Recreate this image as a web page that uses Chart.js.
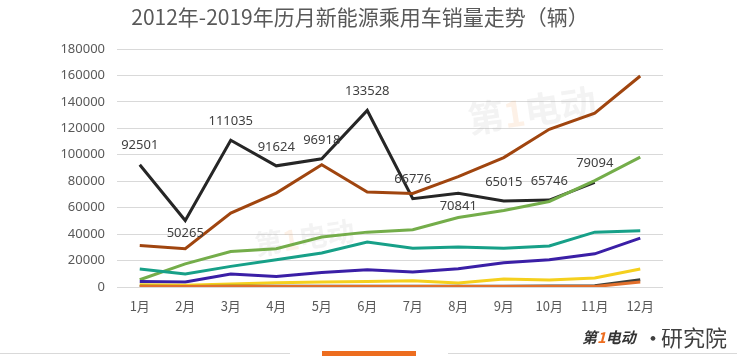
<!DOCTYPE html>
<html>
<head>
<meta charset="utf-8">
<script src="https://cdn.jsdelivr.net/npm/chart.js@4/dist/chart.umd.min.js"></script>
<style>
html,body{margin:0;padding:0;background:#fff;}
#wrap{position:relative;width:737px;height:356px;overflow:hidden;}
canvas{position:absolute;left:0;top:0;}
.deco{position:absolute;}
</style>
</head>
<body>
<div id="wrap">
<canvas id="c" width="737" height="356"></canvas>
<div class="deco" style="left:0;top:353px;width:290px;height:1px;background:#d9d9d9"></div>
<div class="deco" style="left:322px;top:351px;width:94px;height:5px;background:#ed6d1f"></div>
<div class="deco" style="left:448px;top:353px;width:289px;height:1px;background:#d9d9d9"></div>
</div>
<script>
const titleText = '2012年-2019年历月新能源乘用车销量走势（辆）';
const months = ['1月','2月','3月','4月','5月','6月','7月','8月','9月','10月','11月','12月'];
const yTicks = [0,20000,40000,60000,80000,100000,120000,140000,160000,180000];

const s2012 = [300,300,300,300,300,300,300,300,300,300,300,3800];
const s2013 = [500,400,500,600,600,500,500,500,600,700,1000,5500];
const s2014 = [1700,1300,2300,3300,3800,4200,4700,3000,6000,5300,6800,13600];
const s2015 = [4200,3800,9800,8000,11000,13100,11300,13800,18300,20600,25100,37000];
const s2016 = [13600,9800,15600,20600,25700,34000,29400,30200,29400,31000,41500,42500];
const s2017 = [5500,17500,26900,28900,37800,41500,43300,52600,57900,64700,80500,98200];
const s2018 = [31400,28900,55900,71000,92400,71800,70700,83500,97900,119300,131400,159600];
const s2019 = [92501,50265,111035,91624,96918,133528,66776,70841,65015,65746,79094,null];
const labelsBelow2019 = [1,7];

function ds(label, data, color){
  return {label, data, borderColor: color, backgroundColor: color, borderWidth: 3,
    pointRadius: 0, tension: 0, fill: false, spanGaps: false};
}

const dataLabelPlugin = {
  id: 'dl',
  afterDatasetsDraw(chart){
    const ctx = chart.ctx;
    const meta = chart.getDatasetMeta(7);
    ctx.save();
    ctx.font = '13px "Noto Sans", "Open Sans", sans-serif';
    ctx.fillStyle = '#404040';
    ctx.textAlign = 'center';
    ctx.textBaseline = 'middle';
    meta.data.forEach((pt, i) => {
      const v = s2019[i];
      if (v == null) return;
      const below = labelsBelow2019.includes(i);
      ctx.fillText(String(v), pt.x, pt.y + (below ? 13 : -19));
    });
    ctx.restore();
  }
};

const decoPlugin = {
  id: 'deco',
  beforeDatasetsDraw(chart){
    const ctx = chart.ctx;
    ctx.save();
    function wm(x, y, size, rot, alpha){
      ctx.save();
      ctx.translate(x, y);
      ctx.rotate(rot);
      ctx.globalAlpha = alpha;
      ctx.font = 'bold ' + size + 'px "Noto Sans CJK SC", sans-serif';
      ctx.textBaseline = 'middle';
      ctx.textAlign = 'left';
      ctx.fillStyle = '#b0b0b0';
      ctx.fillText('第', 0, 0);
      let w = ctx.measureText('第').width;
      ctx.fillStyle = '#f0a060';
      ctx.fillText('1', w, 0);
      w += ctx.measureText('1').width;
      ctx.fillStyle = '#b0b0b0';
      ctx.fillText('电动', w, 0);
      ctx.restore();
    }
    wm(468, 120, 36, -0.15, 0.15);
    wm(255, 245, 28, -0.15, 0.15);
    ctx.restore();
  },
  afterDraw(chart){
    const ctx = chart.ctx;
    ctx.save();
    ctx.font = '21px "Noto Sans CJK SC", sans-serif';
    ctx.fillStyle = '#595959';
    ctx.textAlign = 'center';
    ctx.textBaseline = 'middle';
    ctx.fillText(titleText, 360, 17);
    ctx.textBaseline = 'middle';
    ctx.textAlign = 'left';
    ctx.font = 'bold italic 15px "Noto Sans CJK SC", sans-serif';
    let x = 582;
    ctx.fillStyle = '#333';
    ctx.fillText('第', x, 337); x += ctx.measureText('第').width;
    ctx.fillStyle = '#ed6d1f';
    ctx.fillText('1', x, 337); x += ctx.measureText('1').width;
    ctx.fillStyle = '#333';
    ctx.fillText('电动', x, 337);
    ctx.font = '22px "Noto Sans CJK SC", sans-serif';
    ctx.fillStyle = '#404040';
    ctx.fillText('•', 642, 338);
    ctx.fillText('研究院', 661, 338);
    ctx.restore();
  }
};

new Chart(document.getElementById('c'), {
  type: 'line',
  data: {
    labels: months,
    datasets: [
      ds('2012年', s2012, '#e2702c'),
      ds('2013年', s2013, '#3c3f3a'),
      ds('2014年', s2014, '#f5d01e'),
      ds('2015年', s2015, '#3a1fa6'),
      ds('2016年', s2016, '#17a088'),
      ds('2017年', s2017, '#74ad4a'),
      ds('2018年', s2018, '#a0450f'),
      ds('2019年', s2019, '#262626')
    ]
  },
  options: {
    responsive: false,
    animation: false,
    layout: { padding: { top: 49, left: 0, right: 74, bottom: 0 } },
    plugins: { legend: { display: false }, title: { display: false }, tooltip: { enabled: false } },
    scales: {
      x: {
        offset: true,
        grid: { display: false, drawTicks: false },
        border: { display: false },
        ticks: { color: '#595959', font: { size: 13, family: '"Noto Sans CJK SC", sans-serif' }, padding: 11, maxRotation: 0 },
        afterFit(s){ s.height = 69; }
      },
      y: {
        min: 0, max: 180000,
        afterBuildTicks(s){ s.ticks = yTicks.map(v => ({value: v})); },
        grid: { color: '#d9d9d9', drawTicks: false, lineWidth: 1 },
        border: { display: false },
        ticks: { color: '#595959', font: { size: 13, family: '"Noto Sans", sans-serif' }, padding: 12,
          callback: (v) => String(v) },
        afterFit(s){ s.width = 117; }
      }
    }
  },
  plugins: [decoPlugin, dataLabelPlugin]
});
</script>
</body>
</html>
